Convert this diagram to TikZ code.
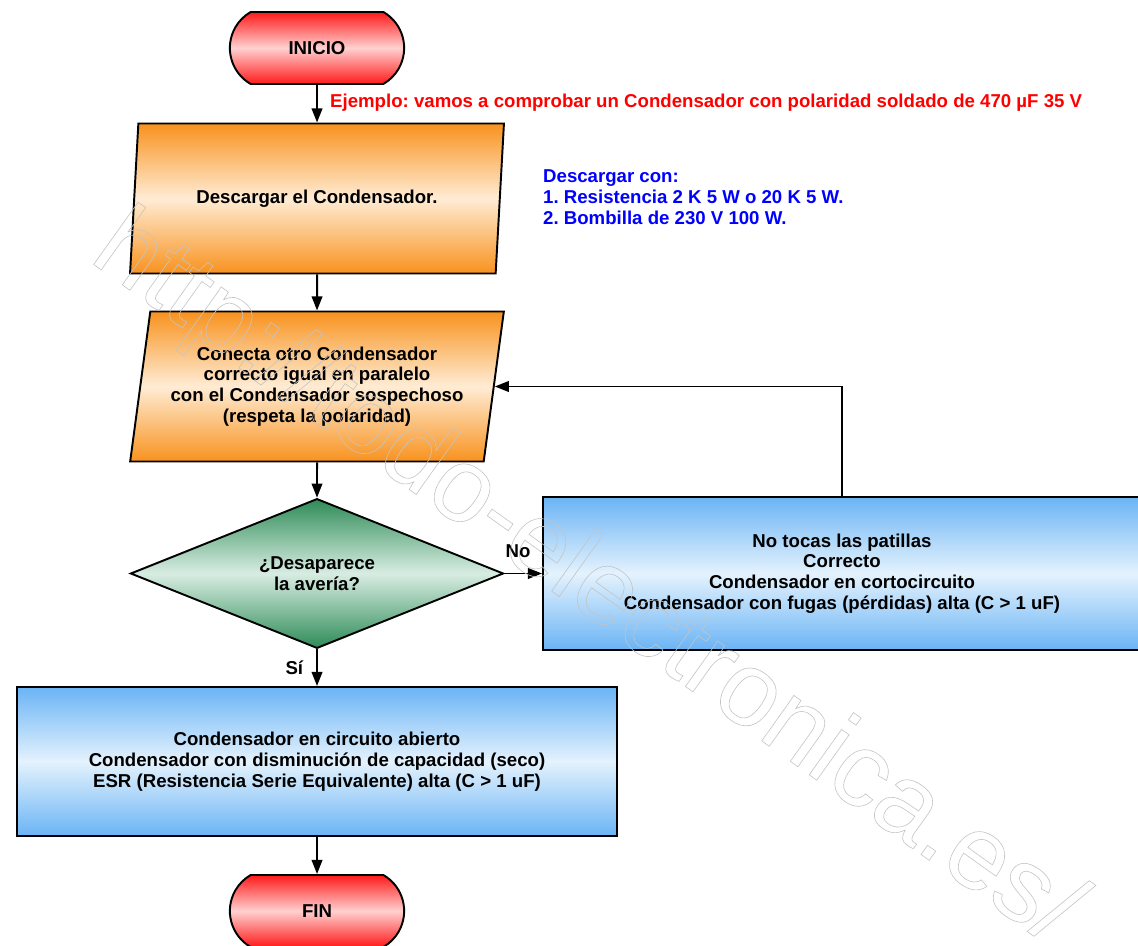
\documentclass[tikz,border=0pt]{standalone}
\usepackage{fontspec}
\setmainfont{Liberation Sans}
\usetikzlibrary{shapes.geometric, shapes.misc, arrows.meta}
\frenchspacing

\definecolor{rojo}{HTML}{FF1A1A}
\definecolor{rosa}{HTML}{FFD0D0}
\definecolor{naranja}{HTML}{F8921E}
\definecolor{crema}{HTML}{FFECD4}
\definecolor{verde}{HTML}{2E8B57}
\definecolor{verdeclaro}{HTML}{D8EDE2}
\definecolor{azul}{HTML}{6AB4F5}
\definecolor{azulclaro}{HTML}{E4F2FD}
\definecolor{marcagris}{HTML}{C4C4C4}

\tikzset{
    texto/.style={font=\fontsize{10.6}{11.8}\selectfont\bfseries, align=center},
    terminal/.style={texto, rounded rectangle, rounded rectangle arc length=120,
        draw, line width=1.1pt, minimum width=3.72cm, minimum height=1.44cm,
        top color=rojo, bottom color=rojo, middle color=rosa},
    entrada/.style={texto, trapezium, trapezium left angle=78.6, trapezium right angle=101.4,
        trapezium stretches=true, draw, line width=1.1pt, minimum width=7.48cm, minimum height=3cm,
        top color=naranja, bottom color=naranja, middle color=crema},
    decision/.style={texto, diamond, draw, line width=1.1pt, inner sep=0pt,
        minimum width=7.46cm, minimum height=2.94cm,
        top color=verde, bottom color=verde, middle color=verdeclaro},
    resultado/.style={texto, rectangle, draw, line width=1.1pt,
        top color=azul, bottom color=azul, middle color=azulclaro},
    flecha/.style={line width=1.1pt, -{Triangle[length=8pt,width=6pt]}}
}

\begin{document}
\begin{tikzpicture}
    \useasboundingbox (0,0) rectangle (22.76,-18.92);
    % Start
    \node[terminal] (inicio) at (6.34,-0.96) {INICIO};
    \node[texto, text=red, anchor=west] (ejemplo) at (6.48,-2.06)
        {Ejemplo: vamos a comprobar un Condensador con polaridad soldado de 470 µF 35 V};
    % Steps
    \node[entrada] (descarga) at (6.34,-3.97) {Descargar el Condensador.};
    \node[texto, text=blue, align=left, anchor=west] (consejo) at (10.74,-3.94)
        {Descargar con:\\1. Resistencia 2 K 5 W o 20 K 5 W.\\2. Bombilla de 230 V 100 W.};
    \node[entrada] (conecta) at (6.34,-7.73)
        {Conecta otro Condensador\\correcto igual en paralelo\\con el Condensador sospechoso\\(respeta la polaridad)};
    % Decision
    \node[decision] (pregunta) at (6.34,-11.47) {¿Desaparece\\la avería?};
    % Results
    \node[resultado, minimum width=11.96cm, minimum height=3.06cm] (corto) at (16.84,-11.47)
        {No tocas las patillas\\Correcto\\Condensador en cortocircuito\\Condensador con fugas (pérdidas) alta (C > 1 uF)};
    \node[resultado, minimum width=12cm, minimum height=2.98cm] (abierto) at (6.34,-15.23)
        {Condensador en circuito abierto\\Condensador con disminución de capacidad (seco)\\ESR (Resistencia Serie Equivalente) alta (C > 1 uF)};
    % End
    \node[terminal] (fin) at (6.34,-18.22) {FIN};
    % Arrows
    \draw[flecha] (inicio) -- (descarga);
    \draw[flecha] (descarga) -- (conecta);
    \draw[flecha] (conecta) -- (pregunta);
    \draw[flecha] (pregunta.east) -- node[texto, above=5pt, xshift=-3pt] (no) {No} (corto.west);
    \draw[flecha] (pregunta.south) -- node[texto, left, xshift=-4pt] (si) {Sí} (abierto.north);
    \draw[flecha] (abierto) -- (fin);
    \draw[flecha] (corto.north) |- (conecta.east);
    % Watermark
    \node[rotate=-35.5, anchor=base west, inner sep=0pt, text=marcagris,
        font=\fontsize{60}{60}\selectfont] (marca) at (1.75,-5.2)
        {\special{pdf:literal direct 1 Tr 0.35 w}http://todo-electronica.es/\special{pdf:literal direct 0 Tr}};
\end{tikzpicture}
\end{document}
